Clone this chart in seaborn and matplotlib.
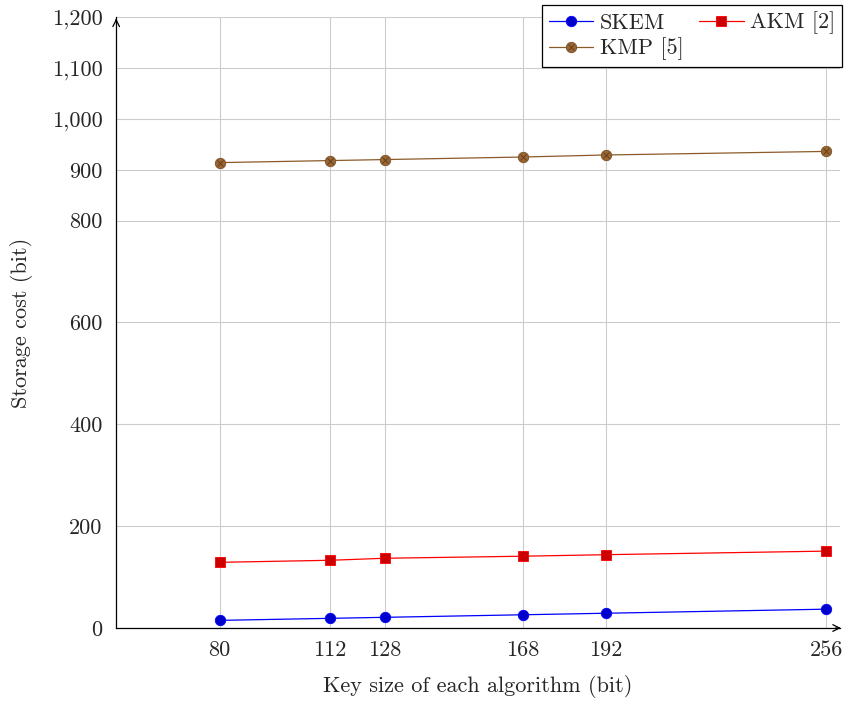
import matplotlib
matplotlib.use("Agg")
import matplotlib.pyplot as plt
import seaborn as sns
import pandas as pd
from matplotlib.legend_handler import HandlerTuple
from matplotlib.lines import Line2D

key_sizes = [80, 112, 128, 168, 192, 256]
skem = [15, 19, 21, 26, 29, 37]
akm = [129, 133, 137, 141, 144, 151]
kmp = [914, 918, 920, 925, 929, 936]
series_names = ["SKEM", "AKM [2]", "KMP [5]"]
y_ticks = [0, 200, 400, 600, 800, 900, 1000, 1100, 1200]
x_label = "Key size of each algorithm (bit)"
y_label = "Storage cost (bit)"

sns.set_theme(style="white")
plt.rcParams["font.family"] = ["cmr10", "DejaVu Serif"]
plt.rcParams["mathtext.fontset"] = "cm"
plt.rcParams["axes.unicode_minus"] = False

FS = 16
fig = plt.figure(figsize=(8.48, 7.02), dpi=100)
ax = fig.add_axes([0.137, 0.1054, 0.8536, 0.8704])

styles = {
    "SKEM": dict(color="#0000ff", marker="o", mfc="#0000cc", mec="#0000ff", ms=7.5),
    "AKM [2]": dict(color="#ff0000", marker="s", mfc="#cc0000", mec="#ff0000", ms=7.5),
    "KMP [5]": dict(color="#8c5a2a", marker="o", mfc="#996633", mec="#7a4f25", ms=7.5),
}
data = {"SKEM": skem, "AKM [2]": akm, "KMP [5]": kmp}

handles = {}
for name in series_names:
    df = pd.DataFrame({"x": key_sizes, "y": data[name]})
    st = styles[name]
    sns.lineplot(data=df, x="x", y="y", ax=ax, color=st["color"], linewidth=0.9,
                 marker=st["marker"], markersize=st["ms"], markerfacecolor=st["mfc"],
                 markeredgecolor=st["mec"], markeredgewidth=0.6, zorder=3)
    handles[name] = Line2D([], [], color=st["color"], linewidth=0.9, marker=st["marker"],
                           markersize=st["ms"], markerfacecolor=st["mfc"],
                           markeredgecolor=st["mec"], markeredgewidth=0.6)

# otimes overlay for KMP
ax.plot(key_sizes, kmp, linestyle="none", marker="x", markersize=5,
        markeredgecolor="#5c3a18", markeredgewidth=0.6, zorder=4)
kmp_x = Line2D([], [], linestyle="none", marker="x", markersize=5,
               markeredgecolor="#5c3a18", markeredgewidth=0.6)

ax.set_xlim(50, 260)
ax.set_ylim(0, 1200)
ax.set_xticks(key_sizes)
ax.set_xticklabels([str(k) for k in key_sizes])
ax.set_yticks(y_ticks)
ax.set_yticklabels([f"{v:,}" for v in y_ticks])
ax.tick_params(axis="both", labelsize=FS, length=4, color="#999999", direction="inout",
               width=0.8, pad=7)
ax.tick_params(axis="y", pad=8)
ax.grid(True, color="#cccccc", linewidth=0.8)
ax.set_axisbelow(True)

for s in ["top", "right"]:
    ax.spines[s].set_visible(False)
for s in ["left", "bottom"]:
    ax.spines[s].set_color("black")
    ax.spines[s].set_linewidth(0.9)

ax.annotate("", xy=(1.005, 0), xytext=(0.99, 0), xycoords="axes fraction",
            arrowprops=dict(arrowstyle="->", color="black", lw=0.9), annotation_clip=False)
ax.annotate("", xy=(0, 1.002), xytext=(0, 0.99), xycoords="axes fraction",
            arrowprops=dict(arrowstyle="->", color="black", lw=0.9), annotation_clip=False)

ax.set_xlabel(x_label, fontsize=FS, labelpad=11)
ax.set_ylabel(y_label, fontsize=FS, labelpad=13)

order = ["SKEM", "KMP [5]", "AKM [2]"]
leg_handles = []
for n in order:
    if n == "KMP [5]":
        leg_handles.append((handles[n], kmp_x))
    else:
        leg_handles.append(handles[n])
leg = ax.legend(leg_handles, order, ncol=2, loc="upper right", bbox_to_anchor=(1.003, 1.0196),
                borderaxespad=0,
                fontsize=FS, frameon=True, fancybox=False, edgecolor="black",
                framealpha=1, borderpad=0.3, handlelength=2.0, columnspacing=0.7,
                labelspacing=0.22, handletextpad=0.3,
                handler_map={tuple: HandlerTuple(ndivide=1, pad=0)})
leg.get_frame().set_linewidth(0.9)

fig.savefig("out.png", dpi=100)
